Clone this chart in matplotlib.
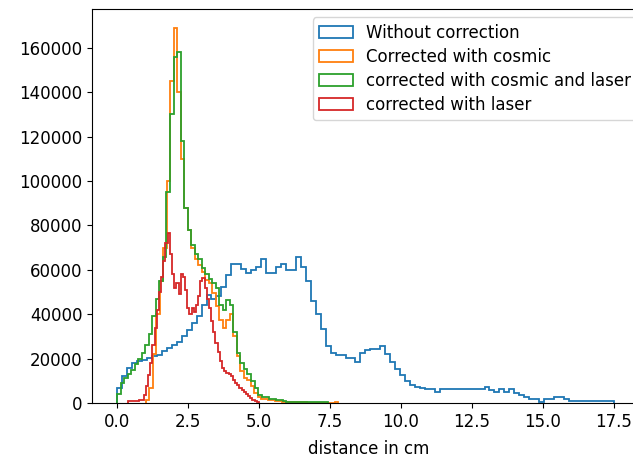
import numpy as np
import matplotlib
matplotlib.use("Agg")
import matplotlib.pyplot as plt

# bin counts, one array per histogram
blue_range = (0.0, 17.5)
blue_counts = [
    7000, 12000, 16000, 18000, 19000, 19500, 20500, 21000, 21500, 23500,
    25000, 26000, 27500, 30000, 33000, 36000, 39000, 44000, 48500, 47000,
    48000, 52500, 57500, 62500, 62500, 60500, 58500, 60000, 61500, 65000,
    58500, 58500, 61500, 62500, 60000, 60000, 66000, 61500, 55000, 46000,
    40000, 33500, 25500, 22500, 21500, 21500, 20500, 20500, 18500, 22500,
    24000, 24200, 24500, 25700, 22000, 18500, 15500, 12500, 10000, 8000,
    7100, 6600, 6200, 6200, 5100, 6200, 6200, 6200, 6200, 6200,
    6200, 6200, 6200, 6200, 7100, 5700, 5100, 6200, 5100, 6200,
    4400, 3600, 2600, 1800, 1800, 600, 1800, 1800, 2600, 2600,
    1800, 1000, 1000, 900, 900, 800, 800, 800, 700, 700,
]

orange_range = (1.0, 7.8)
orange_counts = [
    1500, 7000, 22000, 40000, 55000, 70000, 100000, 145000, 169000, 140000,
    110000, 88000, 78000, 70000, 65000, 62000, 59000, 55500, 54000, 49500,
    43500, 37500, 34000, 37500, 40000, 30000, 21000, 14500, 11500, 10400,
    7500, 4500, 2800, 1800, 1700, 1500, 1200, 1000, 800, 600,
    500, 400, 400, 300, 300, 300, 200, 200, 200, 200,
    200, 200, 150, 150, 600,
]

green_range = (0.0, 7.45)
green_counts = [
    4000, 9000, 11500, 13000, 15000, 17500, 20000, 22500, 26000, 31000,
    39000, 47000, 55000, 66000, 95000, 130000, 156000, 158000, 118000, 88000,
    78000, 71000, 67000, 65000, 61000, 58000, 56000, 54000, 52000, 44000,
    42000, 46500, 44000, 32000, 22500, 18000, 15500, 13000, 10000, 7000,
    3800, 2800, 2500, 1800, 1700, 1500, 1200, 800, 600, 600,
    500, 500, 500, 400, 400, 400, 300, 300, 300, 300,
]

red_range = (0.4, 5.0)
red_counts = [
    800, 900, 900, 1000, 1000, 1200, 1500, 3500, 7500, 12500,
    18000, 26000, 34000, 42000, 50000, 57000, 64000, 72000, 76500, 67000,
    58000, 52000, 54000, 49000, 58000, 57000, 51000, 43000, 40000, 43000,
    41000, 44000, 48000, 55000, 56500, 52000, 47000, 43000, 37000, 32000,
    27000, 23000, 19000, 16000, 14500, 13500, 13000, 12000, 10500, 9000,
    8000, 7000, 6000, 5000, 4000, 3200, 2300, 1500, 800, 400,
]

labels = ["Without correction", "Corrected with cosmic",
          "corrected with cosmic and laser", "corrected with laser"]

fig = plt.figure(figsize=(6.33, 4.58), dpi=100)
# the reference is cropped on the right, so the axes run past the figure edge
ax = fig.add_axes([0.1453, 0.120, 0.875, 0.860])

series = [(blue_range, blue_counts), (orange_range, orange_counts),
          (green_range, green_counts), (red_range, red_counts)]
for (lo_hi, counts), lab in zip(series, labels):
    counts = np.array(counts, dtype=float)
    edges = np.linspace(lo_hi[0], lo_hi[1], len(counts) + 1)
    ax.hist(edges[:-1], bins=edges, weights=counts, histtype="step",
            linewidth=1.3, label=lab)

ax.set_xlim(-0.8875, 18.6375)
ax.set_xticks(np.arange(0, 17.6, 2.5))
ax.set_xlabel("distance in cm", fontsize=12, labelpad=7)
ax.tick_params(labelsize=12)
ax.legend(loc="upper right", fontsize=12, labelspacing=0.35)

fig.savefig("out.png", dpi=100)
